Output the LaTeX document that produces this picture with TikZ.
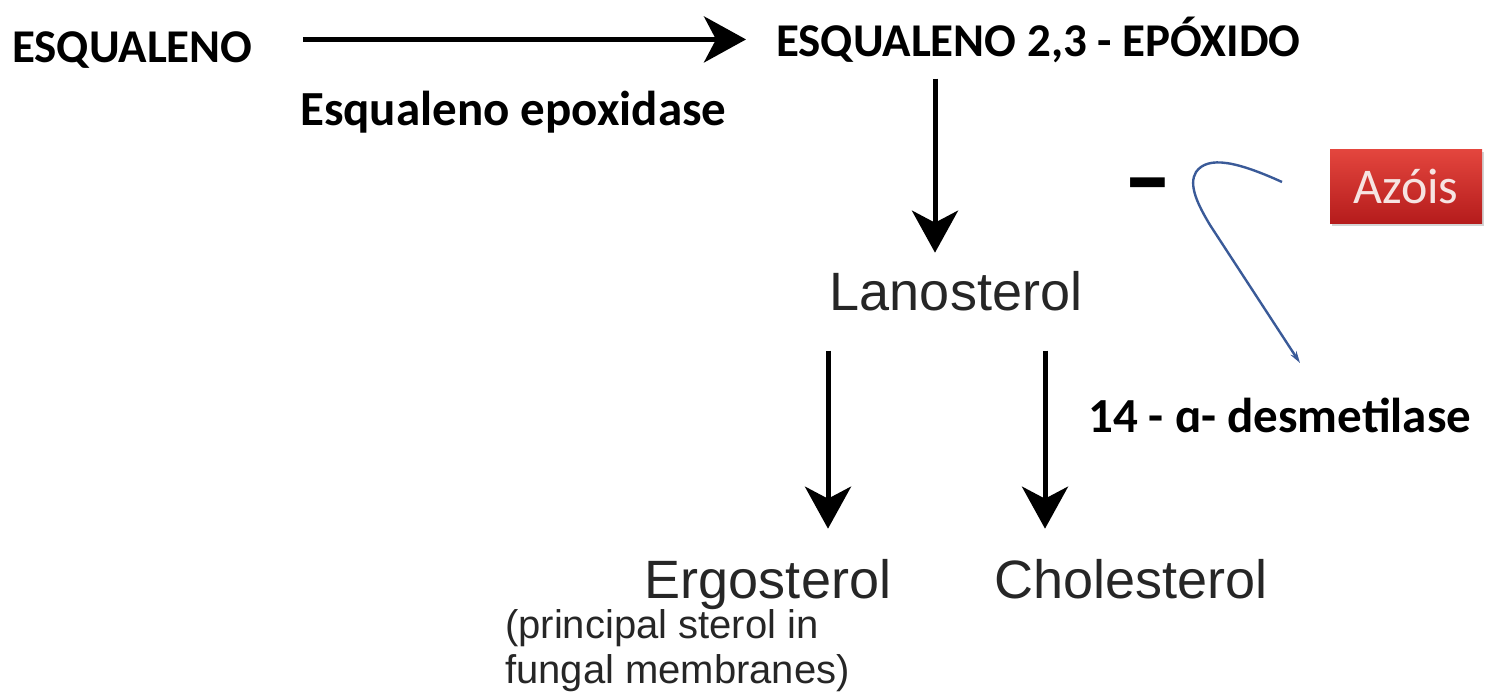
\documentclass[tikz,border=0pt]{standalone}
\usepackage{fontspec}
\setmainfont{Carlito}
\newfontfamily\helv{Liberation Sans}
\usepackage{graphicx}
\usepackage{tikz}
\usetikzlibrary{arrows.meta,shadows}
\newcommand{\setacor}{black}
\newcommand{\grossura}{5pt}
\definecolor{azulseta}{HTML}{3A5A98}
\definecolor{vermcima}{HTML}{E4463E}
\definecolor{vermbaixo}{HTML}{B51C1C}
\definecolor{textoaz}{HTML}{F6E4E2}

\begin{document}
\begin{tikzpicture}[x=1pt,y=-1pt,
    seta/.style={draw=\setacor, line width=\grossura, -{Stealth[length=42pt,width=46pt,inset=12pt]}},
    titulo/.style={inner sep=0, font=\bfseries\fontsize{47}{54}\selectfont},
    enzima/.style={inner sep=0, font=\bfseries\fontsize{49}{56}\selectfont},
    esterol/.style={inner sep=0, font=\helv\fontsize{54}{64}\selectfont, text=black!85}]
    \useasboundingbox (0,0) rectangle (1486,696);

    %Substratos:
    \node[titulo, anchor=base west] (esq) at (12,62) {ESQUALENO};
    \node[titulo, anchor=base west] (epox) at (776,56) {ESQUALENO 2,3 - EPÓXIDO};
    \node[enzima, anchor=base west] (epoxidase) at (300,125) {Esqualeno epoxidase};

    %Esterois:
    \node[esterol, anchor=base] (lano) at (956,310) {Lanosterol};
    \node[esterol, anchor=base] (ergo) at (768,598) {Ergosterol};
    \node[esterol, anchor=base] (chol) at (1131,598) {Cholesterol};
    \node[inner sep=0, anchor=base west, align=left, font=\helv\fontsize{40}{45}\selectfont, text=black!85]
        (nota) at (505,683) {(principal sterol in\\fungal membranes)};
    \node[enzima, anchor=base west] (desm) at (1088,432) {14 - ɑ- desmetilase};

    %Setas:
    \draw[seta, shorten <=50pt, shorten >=30pt] (esq.east |- epox.west) -- (epox.west);
    \draw[seta, shorten <=16pt, shorten >=18pt] ([xshift=-21pt]lano.north |- epox.south) -- ([xshift=-21pt]lano.north);
    \draw[seta, shorten <=40pt, shorten >=30pt] ([xshift=-128pt]lano.south) -- ([xshift=-128pt]lano.south |- ergo.north);
    \draw[seta, shorten <=40pt, shorten >=30pt] ([xshift=89pt]lano.south) -- ([xshift=89pt]lano.south |- chol.north);

    %Inibidor:
    \node[minimum width=152pt, minimum height=74pt, inner sep=0,
          top color=vermcima, bottom color=vermbaixo,
          drop shadow={opacity=0.35, shadow xshift=2pt, shadow yshift=-3pt},
          text=textoaz, font=\fontsize{50}{56}\selectfont] (azois) at (1406,186) {Azóis};
    \node[inner sep=0, font=\bfseries\fontsize{70}{80}\selectfont] (menos) at (1148,196) {\scalebox{1.4}[1.6]{–}};
    \coordinate (inib) at (1282,182);
    \coordinate (alvo) at (1300,363);
    \draw[azulseta, line width=2.4pt, -{Stealth[length=12pt,width=7pt]}]
        (inib) .. controls (1238,162) and (1208,155) .. (1196,172)
        .. controls (1188,185) and (1198,205) .. (1210,225) -- (alvo);
\end{tikzpicture}
\end{document}
